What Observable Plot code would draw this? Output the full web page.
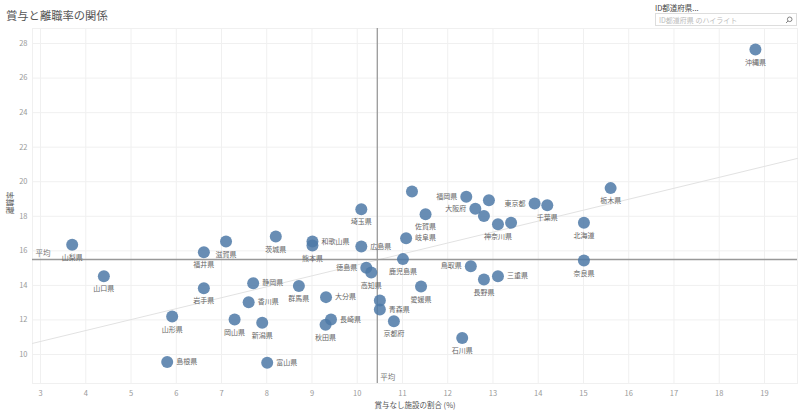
<!DOCTYPE html>
<html><head><meta charset="utf-8">
<script src="https://cdn.jsdelivr.net/npm/d3@7"></script>
<script src="https://cdn.jsdelivr.net/npm/@observablehq/plot@0.6"></script>
<style>
body{margin:0;background:#fff;font-family:"Noto Sans CJK JP","Noto Sans",sans-serif;}
#wrap{position:relative;width:800px;height:419px;overflow:hidden;}
#head{height:26px;}
#title{position:absolute;left:6px;top:7px;font-size:11.3px;color:#555;}
#flab{position:absolute;left:655px;top:2px;font-size:7.5px;color:#444;}
#fbox{position:absolute;left:655px;top:13px;border:1px solid #ddd;font-size:7px;color:#bbb;line-height:12px;padding-left:3px;box-sizing:border-box;width:142px;height:13px;}
#fbox svg{position:absolute;right:3px;top:2px;}
</style></head>
<body><div id="wrap"><div id="head"></div>
<div id="title">賞与と離職率の関係</div>
<div id="flab">ID都道府県...</div>
<div id="fbox">ID都道府県 のハイライト<svg width="8" height="8" viewBox="0 0 8 8"><circle cx="4.7" cy="3.3" r="2.3" fill="none" stroke="#777" stroke-width="0.9"/><line x1="3" y1="5" x2="1" y2="7" stroke="#777" stroke-width="0.9"/></svg></div>
<div id="chart"></div></div>
<script>
const names = ["山梨県","山口県","福井県","滋賀県","茨城県","和歌山県","熊本県","埼玉県","広島県","徳島県","高知県","鹿児島県","岐阜県","宮城県","佐賀県","福岡県","愛知県","大阪府","兵庫県","神奈川県","福島県","東京都","千葉県","栃木県","北海道","奈良県","鳥取県","三重県","長野県","愛媛県","岩手県","静岡県","群馬県","香川県","大分県","山形県","岡山県","新潟県","長崎県","秋田県","青森県","宮崎県","京都府","島根県","富山県","石川県","沖縄県"];
const noBonusPct = [3.70,4.40,6.61,7.10,8.20,9.01,9.01,10.09,10.09,10.20,10.31,11.01,11.08,11.21,11.51,12.41,12.91,12.61,12.80,13.11,13.40,13.92,14.20,15.60,15.01,15.01,12.51,13.11,12.80,11.41,6.61,7.70,8.71,7.60,9.31,5.91,7.29,7.90,9.42,9.30,10.50,10.50,10.81,5.80,8.01,12.32,18.80];
const turnover = [16.35,14.53,15.92,16.54,16.83,16.54,16.31,18.41,16.25,15.02,14.75,15.52,16.73,19.44,18.12,19.13,18.93,18.43,18.01,17.54,17.62,18.74,18.64,19.63,17.62,15.44,15.11,14.53,14.34,13.94,13.84,14.13,13.96,13.03,13.32,12.20,12.03,11.84,12.03,11.72,12.61,13.13,11.93,9.56,9.52,10.95,27.65];
// label placement: b = below, r = right, l = left, n = hidden
const labelPos = ["b","b","b","b","b","r","b","b","r","l","b","b","r","n","b","l","n","l","n","b","n","l","b","b","b","b","l","r","b","b","b","r","b","r","r","b","b","b","r","b","r","n","b","r","r","b","b"];
const xTicks = [3,4,5,6,7,8,9,10,11,12,13,14,15,16,17,18,19];
const yTicks = [10,12,14,16,18,20,22,24,26,28];
const xDomain = [2.823, 19.73];
const yDomain = [8.32, 28.87];
const trendX = [2.823, 19.73];
const trendY = [10.64, 21.35];
const xTitle = "賞与なし施設の割合 (%)";
const yTitle = "離職率";
const avgLabel = "平均";

const data = names.map((n,i)=>({name:n, x:noBonusPct[i], y:turnover[i], pos:labelPos[i]}));
const trend = trendX.map((x,i)=>({x, y:trendY[i]}));
const avgX = d3.mean(noBonusPct);
const avgY = d3.mean(turnover);
const font = "'Noto Sans CJK JP','Noto Sans',sans-serif";
const lab = {fill:"#666", fontSize:7, fontFamily:font};

const chart = Plot.plot({
  width: 800, height: 393,
  marginLeft: 32, marginRight: 3, marginTop: 2, marginBottom: 36,
  style: {fontFamily: font, fontSize: "7.5px", color: "#999", background: "#fff"},
  x: {domain: xDomain, label: null},
  y: {domain: yDomain, label: null},
  marks: [
    Plot.gridX(xTicks, {stroke: "#f0f0f0", strokeOpacity: 1}),
    Plot.gridY(yTicks, {stroke: "#f0f0f0", strokeOpacity: 1}),
    Plot.frame({stroke: "#f0f0f0"}),
    Plot.axisX(xTicks, {tickSize: 0, tickPadding: 7, tickFormat: d => d, label: null, fill: "#999"}),
    Plot.axisY(yTicks, {tickSize: 0, tickPadding: 5, tickFormat: d => d, label: null, fill: "#999"}),
    Plot.line(trend, {x: "x", y: "y", stroke: "#e2e2e2", strokeWidth: 1}),
    Plot.ruleX([avgX], {stroke: "#999", strokeWidth: 1.3}),
    Plot.ruleY([avgY], {stroke: "#999", strokeWidth: 1.3}),
    Plot.text([avgY], {x: () => xDomain[0], y: d => d, text: () => avgLabel, textAnchor: "start", dx: 3, dy: -6, fill: "#777", fontSize: 7.5, fontFamily: font}),
    Plot.text([avgX], {x: d => d, frameAnchor: "bottom", text: () => avgLabel, textAnchor: "start", dx: 3, dy: -4, fill: "#777", fontSize: 7.5, fontFamily: font}),
    Plot.dot(data, {x: "x", y: "y", r: 6, fill: "#4e79a7", fillOpacity: 0.85, stroke: null}),
    Plot.text(data.filter(d => d.pos === "b"), {x: "x", y: "y", text: "name", dy: 13, ...lab}),
    Plot.text(data.filter(d => d.pos === "r"), {x: "x", y: "y", text: "name", textAnchor: "start", dx: 9, ...lab}),
    Plot.text(data.filter(d => d.pos === "l"), {x: "x", y: "y", text: "name", textAnchor: "end", dx: -9, ...lab}),
    Plot.text([xTitle], {frameAnchor: "bottom", dy: 24, text: d => d, fill: "#555", fontSize: 7.5, fontFamily: font}),
    Plot.text([yTitle], {frameAnchor: "left", dx: -22, dy: 8, rotate: -90, text: d => d, fill: "#555", fontSize: 7.5, fontFamily: font})
  ]
});
document.getElementById("chart").appendChild(chart);
</script></body></html>
